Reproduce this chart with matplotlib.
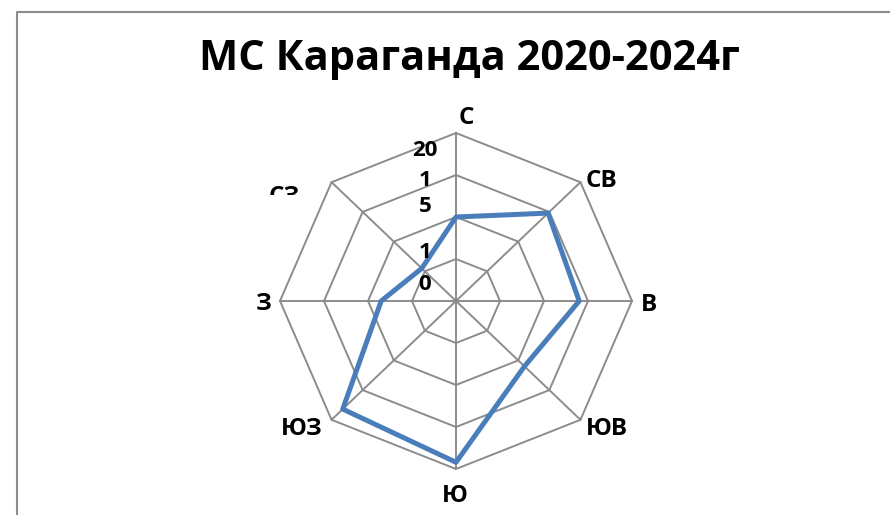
import numpy as np
import matplotlib.pyplot as plt
from matplotlib.patches import Rectangle
from matplotlib.lines import Line2D

# directions (clockwise from north) and values
directions = ["С", "СВ", "В", "ЮВ", "Ю", "ЮЗ", "З", "СЗ"]
values = [10, 14.8, 14, 11, 19.2, 18.2, 8.5, 5.5]
rings = [5, 10, 15, 20]
tick_labels = ["20", "1", "5", "1", "0"]

# label offsets (pixels) from the outer vertex
label_offsets = [(10, 15), (21, 1), (17, -4), (26, -9), (-1, -27), (-30, -9), (-16, -3), (-47, -15)]

plt.rcParams['font.family'] = ['Open Sans', 'DejaVu Sans']
plt.rcParams['path.simplify'] = False

fig = plt.figure(figsize=(8.9, 5.15), dpi=100)
ax = fig.add_axes([0, 0, 1, 1])
# 8.8 px per unit horizontally, 8.4 px per unit vertically, centre at (456, 301)
ax.set_xlim(-456 / 8.8, (890 - 456) / 8.8)
ax.set_ylim(-(515 - 301) / 8.4, 301 / 8.4)
ax.axis('off')

ang = np.arange(len(directions)) * 2 * np.pi / len(directions)
sx, cy = np.sin(ang), np.cos(ang)

grid_col = '#8c8c8c'
# rings
for r in rings:
    ax.plot(np.append(r * sx, r * sx[0]), np.append(r * cy, r * cy[0]), color=grid_col, lw=1.4, zorder=1)
# spokes
for i in range(len(directions)):
    ax.plot([0, rings[-1] * sx[i]], [0, rings[-1] * cy[i]], color=grid_col, lw=1.4, zorder=1)

# data
v = np.array(values)
ax.fill(v * sx, v * cy, fill=False, edgecolor='#4a7ebb', lw=3.6, joinstyle='round', zorder=3)

# direction labels
clip = Rectangle((0, (515 - 195) / 515), 1, 1, transform=fig.transFigure, visible=False)
fig.add_artist(clip)
for i, name in enumerate(directions):
    t = ax.annotate(name, (rings[-1] * sx[i], rings[-1] * cy[i]), xytext=label_offsets[i],
                    textcoords='offset pixels', ha='center', va='center',
                    fontsize=17.5, fontweight='bold', annotation_clip=False)
    if name == "СЗ":
        t.set_clip_path(clip)

# value axis labels (wrapped like in the source)
tick_y = [150, 181, 207, 252, 285]
for lab, y in zip(tick_labels, tick_y):
    fig.text(425 / 890, 1 - y / 515, lab, ha='center', va='center', fontsize=16, fontweight='bold')

# title
fig.text(469 / 890, 1 - 60 / 515, "МС Караганда 2020-2024г", ha='center', va='center',
         fontsize=30, fontweight='bold')

# chart area border
fig.add_artist(Line2D([17 / 890, 17 / 890, 1], [0, 1 - 12 / 515, 1 - 12 / 515],
                      transform=fig.transFigure, color='#8c8c8c', lw=1.5))

fig.savefig('out.png', dpi=100)
